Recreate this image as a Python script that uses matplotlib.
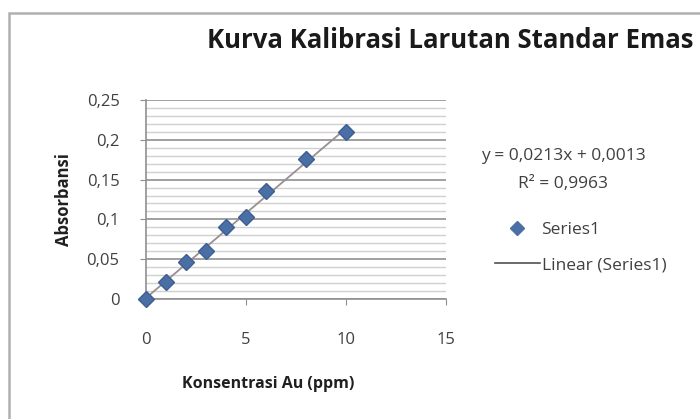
import matplotlib
matplotlib.use("Agg")
import matplotlib.pyplot as plt
from matplotlib.patches import Rectangle
from matplotlib.lines import Line2D
from matplotlib.ticker import MultipleLocator, FuncFormatter

# Data
konsentrasi = [0, 1, 2, 3, 4, 5, 6, 8, 10]
absorbansi = [0.0, 0.021, 0.046, 0.060, 0.090, 0.103, 0.136, 0.176, 0.210]
slope = 0.0213
intercept = 0.0013
title = "Kurva Kalibrasi Larutan Standar Emas"
xlabel = "Konsentrasi Au (ppm)"
ylabel = "Absorbansi"
eq_text = "y = 0,0213x + 0,0013"
r2_text = "R² = 0,9963"
series_name = "Series1"
trend_name = "Linear (Series1)"

plt.rcParams['font.family'] = ['Open Sans', 'DejaVu Sans']

fig = plt.figure(figsize=(7.0, 4.19), dpi=100)
fig.patch.set_facecolor('white')

# outer chart border
fig.patches.append(Rectangle((9/700, -0.05), 1.2, 1 - 13/419 + 0.05, transform=fig.transFigure,
                             fill=False, edgecolor='#b0b0b0', linewidth=1.8, zorder=0))

ax = fig.add_axes([146/700, 1 - 299/419, 300/700, 199/419])
ax.set_xlim(0, 15)
ax.set_ylim(0, 0.25)

ax.yaxis.set_major_locator(MultipleLocator(0.05))
ax.yaxis.set_minor_locator(MultipleLocator(0.01))
ax.xaxis.set_major_locator(MultipleLocator(5))

def comma_fmt(v, pos):
    s = ("%.2f" % v).rstrip('0').rstrip('.')
    return s.replace('.', ',')
ax.yaxis.set_major_formatter(FuncFormatter(comma_fmt))
ax.xaxis.set_major_formatter(FuncFormatter(lambda v, p: "%d" % v))

ax.grid(which='major', axis='y', color='#a0a0a0', linewidth=1.4)
ax.grid(which='minor', axis='y', color='#d0d0d0', linewidth=1.0)
ax.set_axisbelow(True)

for s in ['top', 'right']:
    ax.spines[s].set_visible(False)
ax.spines['left'].set_color('#909090')
ax.spines['bottom'].set_color('#909090')
ax.spines['left'].set_linewidth(1.2)
ax.spines['bottom'].set_linewidth(1.2)

ax.tick_params(axis='both', which='major', colors='#909090', labelcolor='#404040',
               labelsize=12, length=4)
ax.tick_params(axis='y', which='minor', length=0)
ax.tick_params(axis='y', pad=15)
ax.tick_params(axis='x', pad=20)

# trendline
xs = [min(konsentrasi), max(konsentrasi)]
ys = [slope * x + intercept for x in xs]
ax.plot(xs, ys, color='#9a8f94', linewidth=1.3, zorder=2)

ax.plot(konsentrasi, absorbansi, linestyle='none', marker='D', markersize=8,
        color='#4a6fa5', markeredgecolor='#3d5f90', zorder=3, clip_on=False)

ax.set_ylabel(ylabel, fontsize=12, fontweight='bold', color='#202020', labelpad=10)

fig.text(268/700, 1 - 384/419, xlabel, fontsize=11.5, fontweight='bold', color='#202020',
         ha='center', va='center')

fig.text(450/700, 1 - 40/419, title, fontsize=18.5, fontweight='bold', color='#1a1a1a',
         ha='center', va='center')

fig.text(563/700, 1 - 156/419, eq_text, fontsize=12.5, color='#404040', ha='center', va='center')
fig.text(563/700, 1 - 184/419, r2_text, fontsize=12.5, color='#404040', ha='center', va='center')

# legend
leg_handles = [Line2D([], [], linestyle='none', marker='D', markersize=7, color='#4a6fa5'),
               Line2D([], [], color='#505050', linewidth=1.2)]
fig.legend(leg_handles, [series_name, trend_name], loc='upper left',
           bbox_to_anchor=(486/700, 1 - 213/419), frameon=False, fontsize=12.5,
           labelcolor='#404040', handlelength=2.6, handletextpad=0.1, labelspacing=1.1,
           borderpad=0.0)

fig.savefig("out.png", dpi=100, facecolor='white')
